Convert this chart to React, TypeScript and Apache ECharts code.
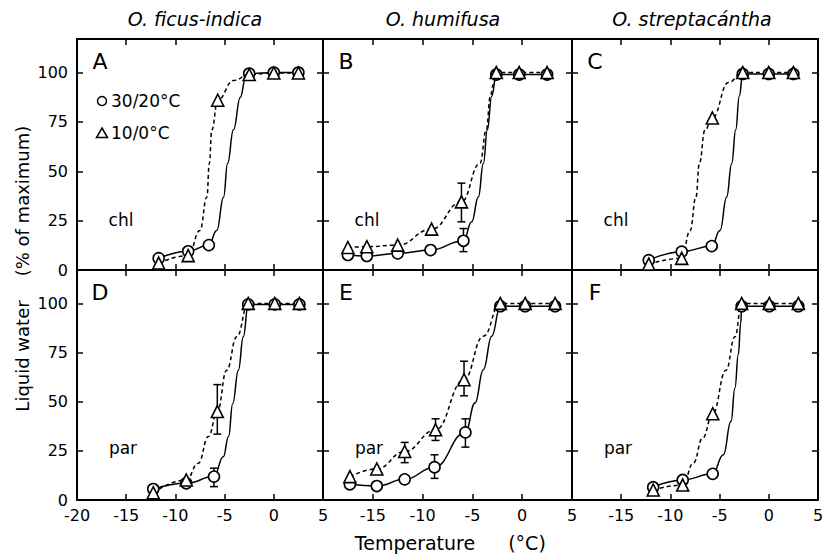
import React, { useEffect, useRef } from "react";
import * as echarts from "echarts";

// ---- labels ----
const speciesTitles = ["O. ficus-indica", "O. humifusa", "O. streptacántha"];
const panelLetters = ["A", "B", "C", "D", "E", "F"];
const panelTags = ["chl", "chl", "chl", "par", "par", "par"];
const legendLabels = ["30/20°C", "10/0°C"];
const yTicks = [0, 25, 50, 75, 100];
const xTicksFull = [-20, -15, -10, -5, 0, 5];
const xTicksShort = [-15, -10, -5, 0, 5];
const xInnerTicks = [-15, -10, -5, 0];
const yInnerTicks = [25, 50, 75, 100];

// ---- measured points [temperature, % liquid water] ----
const warmA = [[-11.7, 6], [-8.7, 9.5], [-6.6, 12.6], [-2.5, 99.5], [0, 100], [2.5, 100]];
const coldA = [[-11.7, 3.5], [-8.7, 7.3], [-5.7, 86], [-2.5, 99], [0, 99.8], [2.5, 99.8]];
const warmB = [[-17.5, 7.6], [-15.6, 7.1], [-12.5, 8.4], [-9.2, 10.1], [-5.9, 14.8], [-2.6, 99], [-0.3, 99], [2.5, 99]];
const coldB = [[-17.5, 11.4], [-15.6, 11.8], [-12.5, 12.6], [-9.1, 20.7], [-6.1, 34.5], [-2.6, 100], [-0.3, 100], [2.5, 100]];
const warmC = [[-12.2, 5], [-8.85, 9.3], [-5.8, 12.1], [-2.65, 99.3], [0, 99.3], [2.5, 99.3]];
const coldC = [[-12.2, 3], [-8.85, 5.9], [-5.74, 77], [-2.65, 100], [0, 100], [2.5, 100]];
const warmD = [[-12.25, 5.6], [-8.9, 8.5], [-6.08, 11.9], [-2.6, 99.5], [0.1, 99.5], [2.6, 99.5]];
const coldD = [[-12.25, 3.7], [-8.9, 10.2], [-5.74, 45], [-2.6, 100], [0.1, 100], [2.6, 100]];
const warmE = [[-17.3, 8], [-14.6, 7.1], [-11.8, 10.5], [-8.8, 16.7], [-5.7, 34.4], [-2.2, 98.6], [0.3, 98.6], [3.3, 98.6]];
const coldE = [[-17.3, 11.9], [-14.6, 15.8], [-11.8, 24.7], [-8.7, 35.7], [-5.84, 61.2], [-2.2, 100], [0.3, 100], [3.3, 100]];
const warmF = [[-11.75, 6.5], [-8.75, 10.2], [-5.7, 13.3], [-2.76, 98.6], [0.05, 98.6], [3, 98.6]];
const coldF = [[-11.75, 5.1], [-8.75, 7.6], [-5.7, 43.9], [-2.76, 100], [0.05, 100], [3, 100]];

// ---- fitted curves ----
const warmCurveA = [[-11.7, 6], [-8.7, 9.5], [-6.6, 12.6], [-5.8, 20], [-5.1, 37], [-4.7, 54], [-4.1, 71], [-3.4, 87.5], [-2.9, 96.5], [-2.5, 99.5], [0, 100], [2.5, 100]];
const coldCurveA = [[-11.7, 3.5], [-8.7, 7.3], [-7.5, 20], [-6.8, 37], [-6.55, 54], [-6.3, 71], [-5.7, 86], [-4.1, 96], [-2.5, 99], [0, 99.8], [2.5, 99.8]];
const warmCurveB = [[-17.5, 7.6], [-15.6, 7.1], [-12.5, 8.4], [-9.2, 10.1], [-5.9, 14.8], [-5.07, 24.4], [-4.4, 37], [-3.9, 54], [-3.5, 71], [-3.06, 88], [-2.6, 99], [-0.3, 99], [2.5, 99]];
const coldCurveB = [[-17.5, 11.4], [-15.6, 11.8], [-12.5, 12.6], [-9.1, 20.7], [-6.1, 34.5], [-4.24, 54], [-3.6, 71], [-3.2, 88], [-2.9, 94], [-2.6, 100], [-0.3, 100], [2.5, 100]];
const warmCurveC = [[-12.2, 5], [-8.85, 9.3], [-5.8, 12.1], [-4.96, 20], [-4.28, 37], [-3.77, 54], [-3.36, 71], [-3.0, 88], [-2.65, 99.3], [0, 99.3], [2.5, 99.3]];
const coldCurveC = [[-12.2, 3], [-8.85, 5.9], [-8.0, 20], [-7.4, 37], [-7.06, 54], [-6.48, 71], [-5.74, 77], [-4.1, 95], [-2.65, 100], [0, 100], [2.5, 100]];
const warmCurveD = [[-12.25, 5.6], [-8.9, 8.5], [-6.08, 11.9], [-5.13, 22], [-4.6, 32.3], [-4.18, 49], [-3.6, 66], [-3.1, 83], [-2.6, 99.5], [0.1, 99.5], [2.6, 99.5]];
const coldCurveD = [[-12.25, 3.7], [-8.9, 10.2], [-7.67, 18.7], [-6.65, 32.3], [-5.74, 45], [-4.79, 66], [-3.77, 83], [-2.6, 100], [0.1, 100], [2.6, 100]];
const warmCurveE = [[-17.3, 8], [-14.6, 7.1], [-11.8, 10.5], [-8.8, 16.7], [-5.7, 34.4], [-4.74, 49.3], [-3.9, 66.3], [-3.06, 83.3], [-2.2, 98.6], [0.3, 98.6], [3.3, 98.6]];
const coldCurveE = [[-17.3, 11.9], [-14.6, 15.8], [-11.8, 24.7], [-8.7, 35.7], [-5.84, 61.2], [-3.9, 83.3], [-2.2, 100], [0.3, 100], [3.3, 100]];
const warmCurveF = [[-11.75, 6.5], [-8.75, 10.2], [-5.7, 13.3], [-4.62, 23], [-3.84, 40], [-3.44, 57], [-3.1, 74], [-2.85, 90], [-2.76, 98.6], [0.05, 98.6], [3, 98.6]];
const coldCurveF = [[-11.75, 5.1], [-8.75, 7.6], [-7.67, 18.7], [-6.72, 31.6], [-5.7, 43.9], [-4.35, 66], [-3.44, 83], [-2.76, 100], [0.05, 100], [3, 100]];

// ---- error bars [temperature, low, high] ----
const warmErrB = [[-5.9, 9.3, 21]];
const coldErrB = [[-6.1, 24.4, 44]];
const warmErrD = [[-6.08, 6.8, 16.2]];
const coldErrD = [[-5.74, 33.5, 58.7]];
const warmErrE = [[-8.8, 11, 23], [-5.7, 26.9, 41.3]];
const coldErrE = [[-11.8, 19, 29.3], [-8.7, 30.3, 41.3], [-5.84, 53, 70.6]];

const warmPts = [warmA, warmB, warmC, warmD, warmE, warmF];
const coldPts = [coldA, coldB, coldC, coldD, coldE, coldF];
const warmCurves = [warmCurveA, warmCurveB, warmCurveC, warmCurveD, warmCurveE, warmCurveF];
const coldCurves = [coldCurveA, coldCurveB, coldCurveC, coldCurveD, coldCurveE, coldCurveF];
const warmErrs = [[], warmErrB, [], warmErrD, warmErrE, []];
const coldErrs = [[], coldErrB, [], coldErrD, coldErrE, []];

const FONT = "DejaVu Sans";
const colLeft = [77, 323, 572];
const colWidth = [246, 249, 246];
const rowTop = [39, 270];
const rowHeight = [231, 230];

function errRender(params: any, api: any) {
  const x = api.value(0);
  const p1 = api.coord([x, api.value(1)]);
  const p2 = api.coord([x, api.value(2)]);
  const w = 4;
  const st = { stroke: "#000", lineWidth: 1.5 };
  return {
    type: "group",
    children: [
      { type: "line", shape: { x1: p1[0], y1: p1[1], x2: p2[0], y2: p2[1] }, style: st },
      { type: "line", shape: { x1: p1[0] - w, y1: p1[1], x2: p1[0] + w, y2: p1[1] }, style: st },
      { type: "line", shape: { x1: p2[0] - w, y1: p2[1], x2: p2[0] + w, y2: p2[1] }, style: st },
    ],
  };
}

function txt(x: number, y: number, text: string, size: number, extra: any = {}) {
  return {
    type: "text", x, y, rotation: extra.rotation || 0,
    style: {
      text, fontSize: size, fontFamily: FONT, fill: "#000", fontStyle: extra.italic ? "italic" : "normal",
      align: extra.align || "center", verticalAlign: "middle",
      textAlign: extra.align || "center", textVerticalAlign: "middle",
    },
  };
}

export default function App() {
  const ref = useRef<HTMLDivElement>(null);
  useEffect(() => {
    document.body.style.margin = "0";
    const chart = echarts.init(ref.current!, null, { renderer: "svg" });
    const grids: any[] = [];
    const xAxes: any[] = [];
    const yAxes: any[] = [];
    const series: any[] = [];
    const graphics: any[] = [];
    const axisLine = { show: true, onZero: false, lineStyle: { color: "#000", width: 2 } };
    const tickStyle = { color: "#000", width: 1.5 };
    for (let g = 0; g < 6; g++) {
      const r = Math.floor(g / 3);
      const c = g % 3;
      grids.push({ left: colLeft[c], top: rowTop[r], width: colWidth[c], height: rowHeight[r] });
      const showX = r === 1;
      const xLabels = c === 0 ? xTicksFull : xTicksShort;
      xAxes.push({
        gridIndex: g, type: "value", min: -20, max: 5, position: "bottom",
        axisLine,
        axisTick: { show: true, inside: true, length: 6, customValues: xInnerTicks, lineStyle: tickStyle },
        axisLabel: { show: showX, customValues: xLabels, fontSize: 16, lineHeight: 13, color: "#000", fontFamily: FONT, margin: 9, showMinLabel: true, showMaxLabel: true },
        splitLine: { show: false },
      });
      xAxes.push({
        gridIndex: g, type: "value", min: -20, max: 5, position: "top",
        axisLine,
        axisTick: { show: true, inside: true, length: 6, customValues: xInnerTicks, lineStyle: tickStyle },
        axisLabel: { show: false },
        splitLine: { show: false },
      });
      const showY = c === 0;
      yAxes.push({
        gridIndex: g, type: "value", min: 0, max: 117, position: "left",
        axisLine,
        axisTick: { show: true, inside: true, length: 6, customValues: yInnerTicks, lineStyle: tickStyle },
        axisLabel: { show: showY, customValues: yTicks, fontSize: 16, lineHeight: 13, color: "#000", fontFamily: FONT, margin: 9 },
        splitLine: { show: false },
      });
      yAxes.push({
        gridIndex: g, type: "value", min: 0, max: 117, position: "right",
        axisLine,
        axisTick: { show: true, inside: true, length: 6, customValues: yInnerTicks, lineStyle: tickStyle },
        axisLabel: { show: false },
        splitLine: { show: false },
      });
      const xi = 2 * g;
      const yi = 2 * g;
      series.push({
        type: "line", xAxisIndex: xi, yAxisIndex: yi, data: warmCurves[g], symbol: "none", showSymbol: false,
        smooth: 0.45, smoothMonotone: "x", z: 2,
        lineStyle: { color: "#000", width: 1.5, type: "solid" },
      });
      series.push({
        type: "line", xAxisIndex: xi, yAxisIndex: yi, data: coldCurves[g], symbol: "none", showSymbol: false,
        smooth: 0.45, smoothMonotone: "x", z: 2,
        lineStyle: { color: "#000", width: 1.5, type: [4, 3] },
      });
      if (warmErrs[g].length) {
        series.push({ type: "custom", xAxisIndex: xi, yAxisIndex: yi, data: warmErrs[g], renderItem: errRender, z: 3 });
      }
      if (coldErrs[g].length) {
        series.push({ type: "custom", xAxisIndex: xi, yAxisIndex: yi, data: coldErrs[g], renderItem: errRender, z: 3 });
      }
      series.push({
        type: "scatter", xAxisIndex: xi, yAxisIndex: yi, data: warmPts[g], symbol: "circle", symbolSize: 11, z: 4,
        itemStyle: { color: "#fff", borderColor: "#000", borderWidth: 1.6, opacity: 1 },
      });
      series.push({
        type: "scatter", xAxisIndex: xi, yAxisIndex: yi, data: coldPts[g], symbol: "triangle", symbolSize: 12, z: 5,
        itemStyle: { color: "#fff", borderColor: "#000", borderWidth: 1.6, opacity: 1 },
      });
      graphics.push(txt(colLeft[c] + 23, rowTop[r] + 22, panelLetters[g], 22));
      graphics.push(txt(colLeft[c] + (r === 0 ? 44 : 46), r === 0 ? 220 : 448, panelTags[g], 17));
    }
    const titleX = [195, 443, 692];
    speciesTitles.forEach((t, i) => {
      graphics.push(txt(titleX[i], 19, t, 19, { italic: true }));
    });
    // legend
    graphics.push({ type: "circle", shape: { cx: 102, cy: 101, r: 4.5 }, style: { fill: "#fff", stroke: "#000", lineWidth: 1.5 } });
    graphics.push({ type: "polygon", shape: { points: [[102, 128], [107.5, 137.5], [96.5, 137.5]] }, style: { fill: "#fff", stroke: "#000", lineWidth: 1.5 } });
    graphics.push(txt(111, 101, legendLabels[0], 17, { align: "left" }));
    graphics.push(txt(111, 133, legendLabels[1], 17, { align: "left" }));
    // axis names
    graphics.push(txt(415, 543, "Temperature", 19));
    graphics.push(txt(527, 543, "(°C)", 19));
    graphics.push(txt(22, 356, "Liquid water", 18, { rotation: Math.PI / 2 }));
    graphics.push(txt(22, 201, "(% of maximum)", 18, { rotation: Math.PI / 2 }));

    chart.setOption({
      animation: false,
      backgroundColor: "#fff",
      grid: grids,
      xAxis: xAxes,
      yAxis: yAxes,
      series,
      graphic: { elements: graphics },
    });
    return () => chart.dispose();
  }, []);
  return <div ref={ref} style={{ position: "absolute", left: 0, top: 0, width: 840, height: 558, background: "#fff" }} />;
}
